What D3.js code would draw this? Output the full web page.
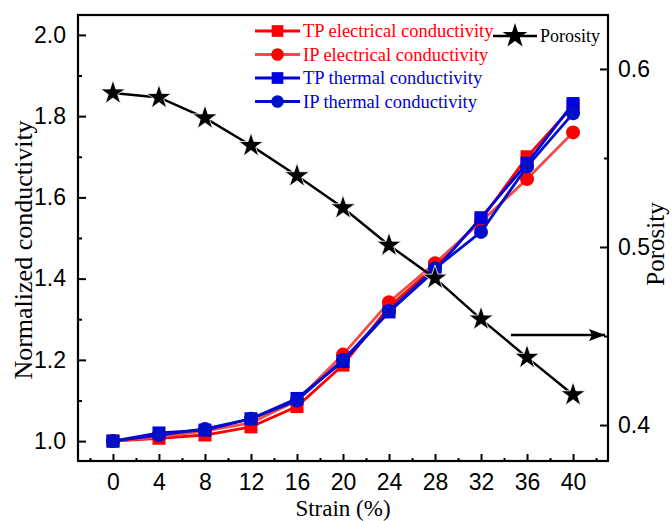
<!DOCTYPE html>
<html>
<head>
<meta charset="utf-8">
<script src="https://cdn.jsdelivr.net/npm/d3@7"></script>
<style>
  body { margin: 0; background: #fff; }
  svg { font-family: "Liberation Serif", "Times New Roman", serif; }
</style>
</head>
<body>
<svg id="chart" width="672" height="521"></svg>
<script>
/* data */
const strain = [0, 4, 8, 12, 16, 20, 24, 28, 32, 36, 40];
const tpElec = [1.0, 1.007, 1.015, 1.035, 1.085, 1.187, 1.33, 1.43, 1.545, 1.70, 1.825];
const ipElec = [1.0, 1.01, 1.025, 1.045, 1.10, 1.213, 1.342, 1.438, 1.54, 1.645, 1.76];
const tpTherm = [1.0, 1.02, 1.027, 1.055, 1.105, 1.196, 1.318, 1.42, 1.55, 1.684, 1.831];
const ipTherm = [1.0, 1.015, 1.03, 1.055, 1.10, 1.20, 1.32, 1.425, 1.515, 1.676, 1.807];
const porosity = [0.5865, 0.584, 0.5725, 0.557, 0.540, 0.522, 0.501, 0.4825, 0.4595, 0.438, 0.417];

const xTicks = [0, 4, 8, 12, 16, 20, 24, 28, 32, 36, 40];
const yTicks = [1.0, 1.2, 1.4, 1.6, 1.8, 2.0];
const y2Ticks = [0.4, 0.5, 0.6];

const SERIES = [
  { name: 'TP electrical conductivity', values: tpElec, line: '#ff0000', fill: '#ff0000', text: '#ff0000', shape: 'square' },
  { name: 'IP electrical conductivity', values: ipElec, line: '#f84848', fill: '#ff0000', text: '#ff0000', shape: 'circle' },
  { name: 'TP thermal conductivity', values: tpTherm, line: '#0000e0', fill: '#0000e0', text: '#0000e0', shape: 'square' },
  { name: 'IP thermal conductivity', values: ipTherm, line: '#0010c8', fill: '#0010c8', text: '#0000e0', shape: 'circle' }
];

/* layout */
const margin = { top: 15, right: 64, bottom: 60, left: 78 };
const W = 672, H = 521;
const width = W - margin.left - margin.right;
const height = H - margin.top - margin.bottom;

const svg = d3.select('#chart');
const g = svg.append('g')
  .attr('transform', 'translate(' + margin.left + ',' + margin.top + ')');

const x = d3.scaleLinear().domain([-3.04, 43.04]).range([0, width]);
const y = d3.scaleLinear().domain([0.951, 2.049]).range([height, 0]);
const y2 = d3.scaleLinear().domain([0.3798, 0.6303]).range([height, 0]);

/* axes, ticks pointing inward */
function styleAxis(sel) {
  sel.select('.domain').remove();
  sel.selectAll('.tick line').attr('stroke', '#000').attr('stroke-width', 2);
  sel.selectAll('.tick text').attr('font-size', 23).attr('fill', '#000');
}

const xMinor = d3.range(-2, 43, 2).filter(d => xTicks.indexOf(d) < 0);
g.append('g').attr('transform', 'translate(0,' + height + ')')
  .call(d3.axisBottom(x).tickValues(xMinor).tickSize(-3).tickFormat(''))
  .call(styleAxis);
g.append('g').attr('transform', 'translate(0,' + height + ')')
  .call(d3.axisBottom(x).tickValues(xTicks).tickSize(-7).tickPadding(13).tickFormat(d3.format('d')))
  .call(styleAxis);

const yMinor = [1.1, 1.3, 1.5, 1.7, 1.9];
g.append('g')
  .call(d3.axisLeft(y).tickValues(yMinor).tickSize(-4).tickFormat(''))
  .call(styleAxis);
g.append('g')
  .call(d3.axisLeft(y).tickValues(yTicks).tickSize(-8).tickPadding(12).tickFormat(d3.format('.1f')))
  .call(styleAxis);

g.append('g').attr('transform', 'translate(' + width + ',0)')
  .call(d3.axisRight(y2).tickValues([0.45, 0.55]).tickSize(-4).tickFormat(''))
  .call(styleAxis);
g.append('g').attr('transform', 'translate(' + width + ',0)')
  .call(d3.axisRight(y2).tickValues(y2Ticks).tickSize(-8).tickPadding(10).tickFormat(d3.format('.1f')))
  .call(styleAxis);

/* frame */
g.append('rect')
  .attr('width', width).attr('height', height)
  .attr('fill', 'none').attr('stroke', '#000').attr('stroke-width', 2.2);

/* axis titles */
svg.append('text')
  .attr('x', margin.left + x(20)).attr('y', 516)
  .attr('text-anchor', 'middle').attr('font-size', 23)
  .text('Strain (%)');
svg.append('text')
  .attr('transform', 'translate(32,' + (margin.top + height / 2 + 12) + ') rotate(-90)')
  .attr('text-anchor', 'middle').attr('font-size', 26)
  .text('Normalized conductivity');
svg.append('text')
  .attr('transform', 'translate(664,' + (margin.top + height / 2 + 6) + ') rotate(-90)')
  .attr('text-anchor', 'middle').attr('font-size', 25)
  .text('Porosity');

/* markers */
const star = d3.symbol().type(d3.symbolStar).size(190);
function drawMarker(sel, s, cx, cy, k) {
  k = k || 1;
  if (s.shape === 'square') {
    sel.append('rect')
      .attr('x', cx - 6.5 * k).attr('y', cy - 6.5 * k)
      .attr('width', 13 * k).attr('height', 13 * k)
      .attr('fill', s.fill);
  } else {
    sel.append('circle')
      .attr('cx', cx).attr('cy', cy).attr('r', 7 * k)
      .attr('fill', s.fill);
  }
}

/* conductivity series */
SERIES.forEach(s => {
  const line = d3.line()
    .x((d, i) => x(strain[i]))
    .y(d => y(d));
  g.append('path')
    .datum(s.values)
    .attr('d', line)
    .attr('fill', 'none')
    .attr('stroke', s.line)
    .attr('stroke-width', 2.8);
  const mg = g.append('g');
  s.values.forEach((v, i) => drawMarker(mg, s, x(strain[i]), y(v)));
});

/* porosity */
const pline = d3.line()
  .x((d, i) => x(strain[i]))
  .y(d => y2(d));
g.append('path')
  .datum(porosity)
  .attr('d', pline)
  .attr('fill', 'none')
  .attr('stroke', '#000')
  .attr('stroke-width', 2.5);
g.selectAll('.star')
  .data(porosity)
  .enter().append('path')
  .attr('class', 'star')
  .attr('d', star)
  .attr('fill', '#000')
  .attr('stroke', '#fff')
  .attr('stroke-width', 0.8)
  .attr('transform', (d, i) => 'translate(' + x(strain[i]) + ',' + y2(d) + ')');

/* arrow pointing at porosity axis */
svg.append('defs').append('marker')
  .attr('id', 'arrowhead')
  .attr('viewBox', '0 0 16 12')
  .attr('refX', 16).attr('refY', 6)
  .attr('markerWidth', 16).attr('markerHeight', 12)
  .attr('markerUnits', 'userSpaceOnUse')
  .attr('orient', 'auto')
  .append('path').attr('d', 'M0,0 L16,6 L0,12 L3,6 Z').attr('fill', '#000');
g.append('line')
  .attr('x1', x(34.6)).attr('x2', width - 3)
  .attr('y1', y2(0.4505)).attr('y2', y2(0.4505))
  .attr('stroke', '#000').attr('stroke-width', 2.5)
  .attr('marker-end', 'url(#arrowhead)');

/* legend */
const leg = svg.append('g');
SERIES.forEach((s, i) => {
  const ly = 31 + i * 23.5;
  leg.append('line')
    .attr('x1', 255).attr('x2', 300).attr('y1', ly).attr('y2', ly)
    .attr('stroke', s.line).attr('stroke-width', 2.8);
  drawMarker(leg, s, 277.5, ly, 0.9);
  leg.append('text')
    .attr('x', 303).attr('y', ly + 6)
    .attr('font-size', 18.5).attr('fill', s.text)
    .text(s.name);
});
leg.append('line')
  .attr('x1', 493).attr('x2', 537).attr('y1', 36).attr('y2', 36)
  .attr('stroke', '#000').attr('stroke-width', 2.5);
leg.append('path')
  .attr('d', star)
  .attr('fill', '#000')
  .attr('transform', 'translate(515,36)');
leg.append('text')
  .attr('x', 540).attr('y', 42)
  .attr('font-size', 18)
  .text('Porosity');
</script>
</body>
</html>
